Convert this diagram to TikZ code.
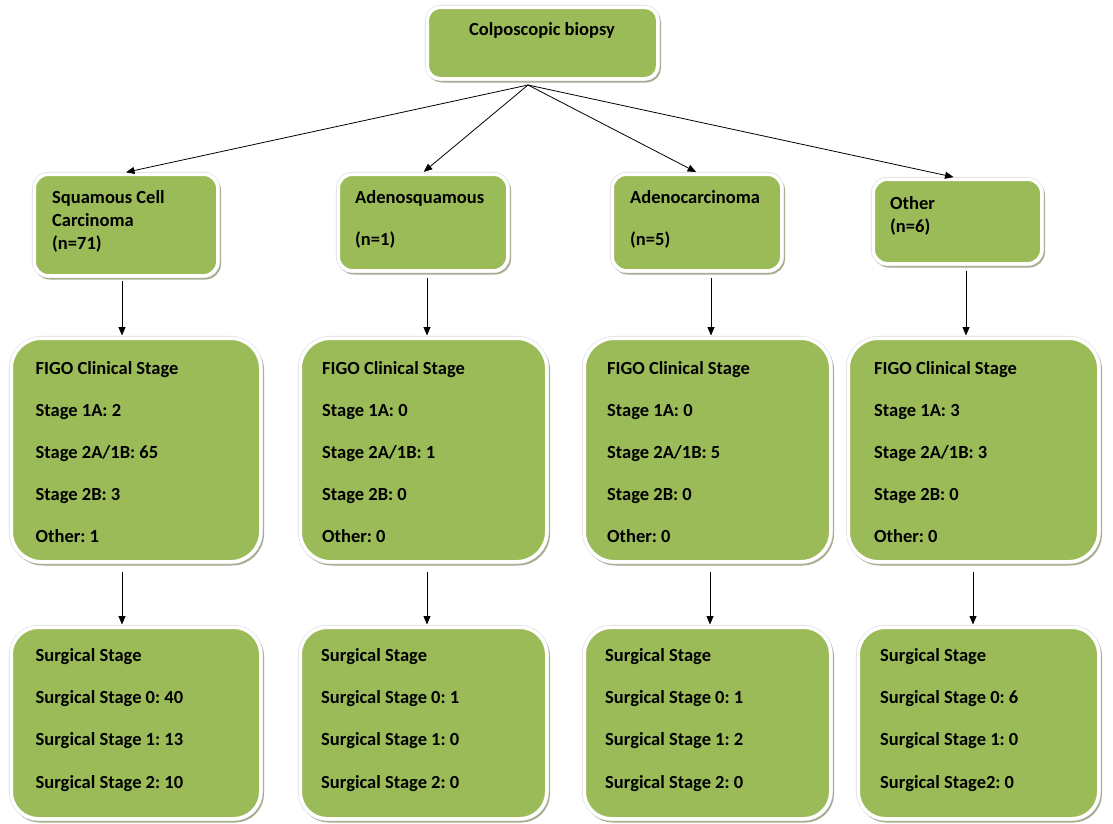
\documentclass[tikz,border=0pt]{standalone}
\usepackage{fontspec}
\setmainfont{Carlito}
\usetikzlibrary{arrows.meta}
\definecolor{boxgreen}{HTML}{9BBB59}
\definecolor{shadowc}{HTML}{A4AC8C}
\frenchspacing
\begin{document}
\frenchspacing
\begin{tikzpicture}[x=1pt,y=-1pt,
  box/.style={rectangle, inner sep=0pt, fill=boxgreen, draw=white, line width=3.5pt,
    preaction={draw=shadowc, fill=shadowc, line width=3.5pt, transform canvas={shift={(1.5pt,-2pt)}}},
    preaction={draw=black!14, line width=4.6pt}},
  txt/.style={inner sep=0pt, align=left, font=\fontsize{18.5}{22}\bfseries\selectfont\frenchspacing, text=black},
  arr/.style={-{Triangle[length=8.5pt,width=7pt]}, line width=0.8pt, black},
]
\useasboundingbox (0,0) rectangle (1113,823);
\fill[white] (0,0) rectangle (1113,823);

% top
\node[box, minimum width=230.5pt, minimum height=71.5pt, rounded corners=13pt] (top) at (542.5,43) {};
\node[txt, anchor=base] (topt) at (542,35) {Colposcopic biopsy};

% level 2
\node[box, minimum width=183.5pt, minimum height=101.5pt, rounded corners=14pt] (sq) at (126,225) {};
\node[box, minimum width=169.5pt, minimum height=96.5pt, rounded corners=14pt] (as) at (423,222.5) {};
\node[box, minimum width=169.5pt, minimum height=96.5pt, rounded corners=14pt] (ac) at (697,222.5) {};
\node[box, minimum width=168.5pt, minimum height=84.5pt, rounded corners=14pt] (ot) at (957.5,221.5) {};
\node[txt, anchor=base west] (sqt) at (52,249) {Squamous Cell\\[1pt]Carcinoma\\[1pt](n=71)};
\node[txt, anchor=base west] (ast) at (355,245) {Adenosquamous\\[20pt](n=1)};
\node[txt, anchor=base west] (act) at (630,245) {Adenocarcinoma\\[20pt](n=5)};
\node[txt, anchor=base west] (ott) at (890,232) {Other\\[1pt](n=6)};

% level 3
\node[box, minimum width=249.5pt, minimum height=223.5pt, rounded corners=30pt] (f1) at (136,450) {};
\node[box, minimum width=246.5pt, minimum height=223.5pt, rounded corners=30pt] (f2) at (423.5,450) {};
\node[box, minimum width=246.5pt, minimum height=223.5pt, rounded corners=30pt] (f3) at (707.5,450) {};
\node[box, minimum width=250.5pt, minimum height=223.5pt, rounded corners=30pt] (f4) at (973.5,450) {};
\node[txt, anchor=base west] (f1t) at (35.5,542) {FIGO Clinical Stage\\[20pt]Stage 1A: 2\\[20pt]Stage 2A/1B: 65\\[20pt]Stage 2B: 3\\[20pt]Other: 1};
\node[txt, anchor=base west] (f2t) at (322,542) {FIGO Clinical Stage\\[20pt]Stage 1A: 0\\[20pt]Stage 2A/1B: 1\\[20pt]Stage 2B: 0\\[20pt]Other: 0};
\node[txt, anchor=base west] (f3t) at (607,542) {FIGO Clinical Stage\\[20pt]Stage 1A: 0\\[20pt]Stage 2A/1B: 5\\[20pt]Stage 2B: 0\\[20pt]Other: 0};
\node[txt, anchor=base west] (f4t) at (874,542) {FIGO Clinical Stage\\[20pt]Stage 1A: 3\\[20pt]Stage 2A/1B: 3\\[20pt]Stage 2B: 0\\[20pt]Other: 0};

% level 4
\node[box, minimum width=249.5pt, minimum height=191.5pt, rounded corners=27pt] (s1) at (136,723) {};
\node[box, minimum width=246.5pt, minimum height=191.5pt, rounded corners=27pt] (s2) at (423.5,723) {};
\node[box, minimum width=246.5pt, minimum height=191.5pt, rounded corners=27pt] (s3) at (707.5,723) {};
\node[box, minimum width=240.5pt, minimum height=191.5pt, rounded corners=27pt] (s4) at (978.5,723) {};
\node[txt, anchor=base west] (s1t) at (35.5,788) {Surgical Stage\\[20.3pt]Surgical Stage 0: 40\\[20.3pt]Surgical Stage 1: 13\\[20.3pt]Surgical Stage 2: 10};
\node[txt, anchor=base west] (s2t) at (321,788) {Surgical Stage\\[20.3pt]Surgical Stage 0: 1\\[20.3pt]Surgical Stage 1: 0\\[20.3pt]Surgical Stage 2: 0};
\node[txt, anchor=base west] (s3t) at (605,788) {Surgical Stage\\[20.3pt]Surgical Stage 0: 1\\[20.3pt]Surgical Stage 1: 2\\[20.3pt]Surgical Stage 2: 0};
\node[txt, anchor=base west] (s4t) at (880,788) {Surgical Stage\\[20.3pt]Surgical Stage 0: 6\\[20.3pt]Surgical Stage 1: 0\\[20.3pt]Surgical Stage2: 0};

% connectors
\coordinate (apex) at (528,85);
\draw[arr, shorten >=1pt] (apex) -- ([xshift=-1pt]sq.north);
\draw[arr, shorten >=1pt] (apex) -- (as.north);
\draw[arr, shorten >=1pt] (apex) -- (ac.north);
\draw[arr, shorten >=2pt] (apex) -- ([xshift=-2pt]ot.north);

\draw[arr, shorten <=3pt, shorten >=1pt] ([xshift=-4pt]sq.south) -- ([xshift=-4pt]sq.south |- f1.north);
\draw[arr, shorten <=5pt, shorten >=1pt] ([xshift=4pt]as.south) -- ([xshift=4pt]as.south |- f2.north);
\draw[arr, shorten <=5pt, shorten >=1pt] ([xshift=14pt]ac.south) -- ([xshift=14pt]ac.south |- f3.north);
\draw[arr, shorten <=5pt, shorten >=1pt] ([xshift=8.5pt]ot.south) -- ([xshift=8.5pt]ot.south |- f4.north);

\draw[arr, shorten <=8pt, shorten >=1pt] ([xshift=-14pt]f1.south) -- ([xshift=-14pt]f1.south |- s1.north);
\draw[arr, shorten <=8pt, shorten >=1pt] ([xshift=3.5pt]f2.south) -- ([xshift=3.5pt]f2.south |- s2.north);
\draw[arr, shorten <=8pt, shorten >=1pt] ([xshift=2.5pt]f3.south) -- ([xshift=2.5pt]f3.south |- s3.north);
\draw[arr, shorten <=8pt, shorten >=1pt] ([xshift=-0.5pt]f4.south) -- ([xshift=-0.5pt]f4.south |- s4.north);
\end{tikzpicture}
\end{document}
